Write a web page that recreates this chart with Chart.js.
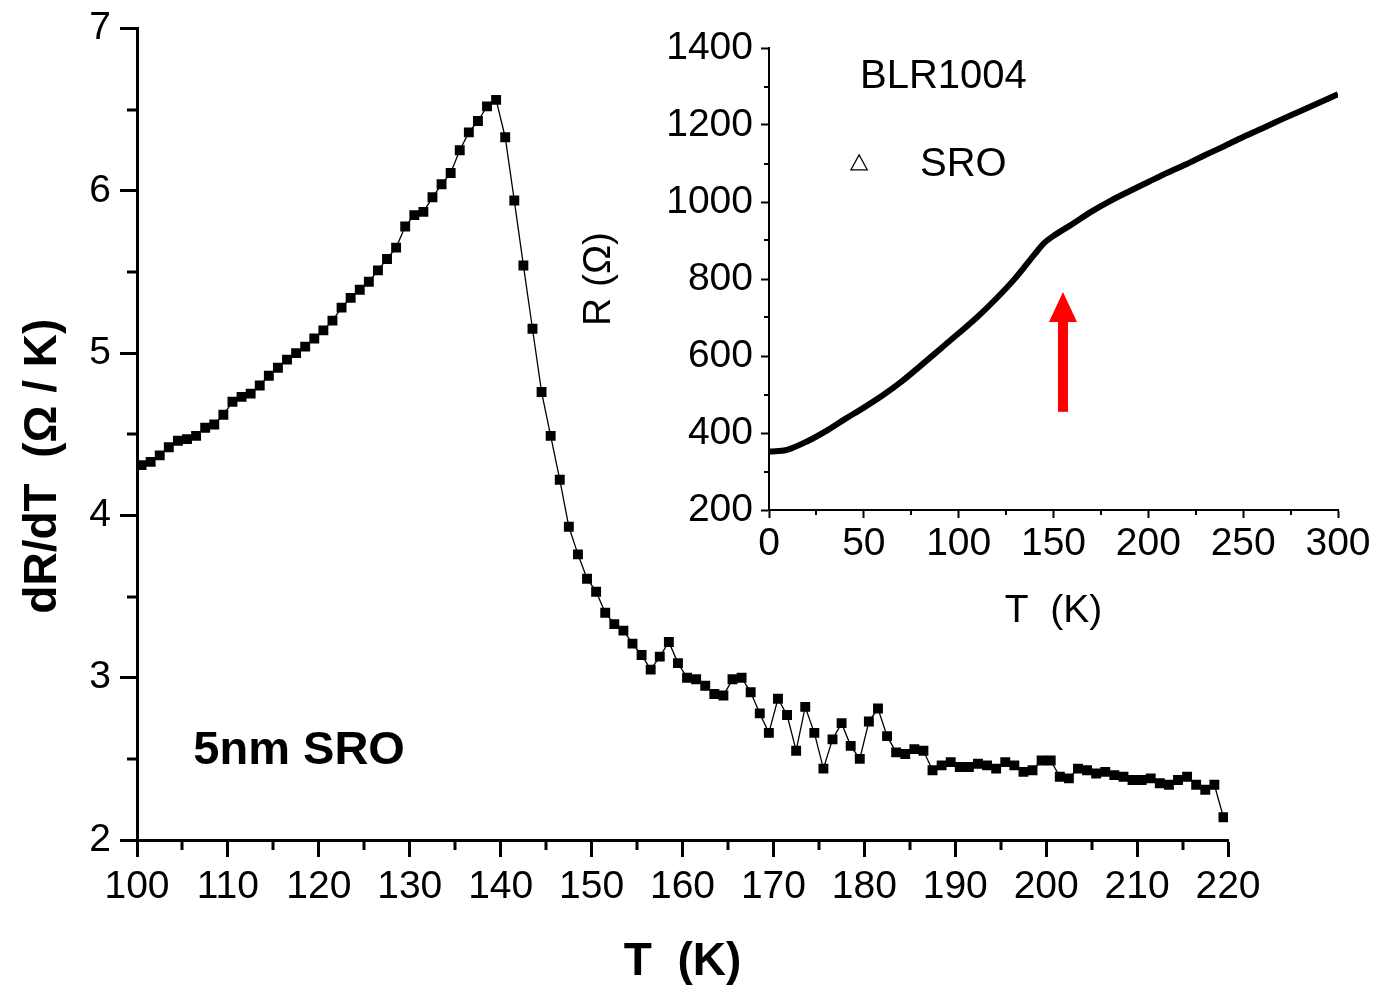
<!DOCTYPE html>
<html>
<head>
<meta charset="utf-8">
<script src="https://cdn.jsdelivr.net/npm/chart.js@4.4.1/dist/chart.umd.min.js"></script>
<style>
  body { margin: 0; background: #fff; }
  #wrap { position: relative; width: 1377px; height: 988px; }
  #mainChart { position: absolute; left: 0; top: 0; }
  #insetChart { position: absolute; left: 560px; top: 0; }
</style>
</head>
<body>
<div id="wrap">
  <canvas id="mainChart" width="1377" height="988"></canvas>
  <canvas id="insetChart" width="817" height="660"></canvas>
</div>
<script>
// main panel: dR/dT vs T, 5nm SRO
const temps = [
  100.5, 101.5, 102.5, 103.5, 104.5, 105.5, 106.5, 107.5, 108.5, 109.5,
  110.5, 111.5, 112.5, 113.5, 114.5, 115.5, 116.5, 117.5, 118.5, 119.5,
  120.5, 121.5, 122.5, 123.5, 124.5, 125.5, 126.5, 127.5, 128.5, 129.5,
  130.5, 131.5, 132.5, 133.5, 134.5, 135.5, 136.5, 137.5, 138.5, 139.5,
  140.5, 141.5, 142.5, 143.5, 144.5, 145.5, 146.5, 147.5, 148.5, 149.5,
  150.5, 151.5, 152.5, 153.5, 154.5, 155.5, 156.5, 157.5, 158.5, 159.5,
  160.5, 161.5, 162.5, 163.5, 164.5, 165.5, 166.5, 167.5, 168.5, 169.5,
  170.5, 171.5, 172.5, 173.5, 174.5, 175.5, 176.5, 177.5, 178.5, 179.5,
  180.5, 181.5, 182.5, 183.5, 184.5, 185.5, 186.5, 187.5, 188.5, 189.5,
  190.5, 191.5, 192.5, 193.5, 194.5, 195.5, 196.5, 197.5, 198.5, 199.5,
  200.5, 201.5, 202.5, 203.5, 204.5, 205.5, 206.5, 207.5, 208.5, 209.5,
  210.5, 211.5, 212.5, 213.5, 214.5, 215.5, 216.5, 217.5, 218.5, 219.5
];
const dRdT = [
  4.31, 4.33, 4.37, 4.42, 4.46, 4.47, 4.49, 4.54, 4.56, 4.62,
  4.70, 4.73, 4.75, 4.80, 4.86, 4.91, 4.96, 5.00, 5.04, 5.09,
  5.14, 5.20, 5.28, 5.34, 5.39, 5.44, 5.51, 5.58, 5.65, 5.78,
  5.85, 5.87, 5.96, 6.04, 6.11, 6.25, 6.36, 6.43, 6.52, 6.56,
  6.33, 5.94, 5.54, 5.15, 4.76, 4.49, 4.22, 3.93, 3.76, 3.61,
  3.53, 3.40, 3.33, 3.29, 3.21, 3.14, 3.05, 3.13, 3.22, 3.09,
  3.00, 2.99, 2.95, 2.90, 2.89, 2.99, 3.00, 2.91, 2.78, 2.66,
  2.87, 2.77, 2.55, 2.82, 2.66, 2.44, 2.62, 2.72, 2.58, 2.50,
  2.73, 2.81, 2.64, 2.54, 2.53, 2.56, 2.55, 2.43, 2.46, 2.48,
  2.45, 2.45, 2.47, 2.46, 2.44, 2.48, 2.46, 2.42, 2.43, 2.49,
  2.49, 2.39, 2.38, 2.44, 2.43, 2.41, 2.42, 2.40, 2.39, 2.37,
  2.37, 2.38, 2.35, 2.34, 2.37, 2.39, 2.34, 2.31, 2.34, 2.14
];
const mainXMinor = [105, 115, 125, 135, 145, 155, 165, 175, 185, 195, 205, 215];
const mainYMinor = [2.5, 3.5, 4.5, 5.5, 6.5];

// inset: R vs T, BLR1004
const insetT = [0, 5, 10, 20, 30, 40, 50, 60, 70, 80, 90, 100, 110, 120, 130, 140, 145,
  150, 160, 170, 180, 190, 200, 210, 220, 230, 240, 250, 260, 270, 280, 290, 300];
const insetR = [352, 353, 357, 378, 405, 436, 466, 498, 534, 575, 617, 659, 702, 750, 803, 864, 893,
  912, 943, 975, 1003, 1028, 1052, 1076, 1098, 1122, 1145, 1169, 1191, 1214, 1236, 1258, 1280];
const insetXMinor = [25, 75, 125, 175, 225, 275];
const insetYMinor = [300, 500, 700, 900, 1100, 1300];

const FONT = "'Liberation Sans', Arial, sans-serif";

// small ticks between the labelled ones
const minorTicks = {
  id: 'minorTicks',
  afterDraw(chart, args, opts) {
    const ctx = chart.ctx;
    const xs = chart.scales.x, ys = chart.scales.y;
    ctx.save();
    ctx.strokeStyle = '#000';
    ctx.lineWidth = opts.width;
    ctx.beginPath();
    opts.x.forEach(v => {
      const px = Math.round(xs.getPixelForValue(v));
      ctx.moveTo(px, xs.top);
      ctx.lineTo(px, xs.top + opts.len);
    });
    opts.y.forEach(v => {
      const py = Math.round(ys.getPixelForValue(v));
      ctx.moveTo(ys.right, py);
      ctx.lineTo(ys.right - opts.len, py);
    });
    ctx.stroke();
    ctx.restore();
  }
};

// free text / arrow, placed in data coordinates
const notes = {
  id: 'notes',
  afterDraw(chart, args, opts) {
    const ctx = chart.ctx;
    const xs = chart.scales.x, ys = chart.scales.y;
    ctx.save();
    (opts.texts || []).forEach(t => {
      ctx.font = t.font;
      ctx.fillStyle = '#000';
      ctx.textBaseline = 'middle';
      ctx.textAlign = 'left';
      ctx.fillText(t.text, xs.getPixelForValue(t.x), ys.getPixelForValue(t.y));
    });
    if (opts.triangle) {
      const tx = xs.getPixelForValue(opts.triangle.x), ty = ys.getPixelForValue(opts.triangle.y);
      const s = opts.triangle.size;
      ctx.beginPath();
      ctx.moveTo(tx, ty - s * 0.55);
      ctx.lineTo(tx + s * 0.55, ty + s * 0.45);
      ctx.lineTo(tx - s * 0.55, ty + s * 0.45);
      ctx.closePath();
      ctx.lineWidth = 1.2;
      ctx.strokeStyle = '#000';
      ctx.stroke();
    }
    if (opts.arrow) {
      const a = opts.arrow;
      const ax = xs.getPixelForValue(a.x);
      const yTip = ys.getPixelForValue(a.tip);
      const yBase = ys.getPixelForValue(a.base);
      const yHead = yTip + a.headLen;
      ctx.fillStyle = '#ff0000';
      ctx.fillRect(ax - a.shaft / 2, yHead - 1, a.shaft, yBase - yHead + 1);
      ctx.beginPath();
      ctx.moveTo(ax, yTip);
      ctx.lineTo(ax + a.headW / 2, yHead);
      ctx.lineTo(ax - a.headW / 2, yHead);
      ctx.closePath();
      ctx.fill();
    }
    ctx.restore();
  }
};

Chart.register(minorTicks, notes);

new Chart(document.getElementById('mainChart'), {
  type: 'line',
  data: {
    datasets: [{
      data: temps.map((t, i) => ({ x: t, y: dRdT[i] })),
      borderColor: '#000',
      borderWidth: 1.3,
      backgroundColor: '#000',
      pointStyle: 'rect',
      pointRadius: 7,
      pointBorderWidth: 0,
      tension: 0
    }]
  },
  options: {
    responsive: false,
    animation: false,
    devicePixelRatio: 1,
    layout: { padding: { left: 0, top: 27, right: 149, bottom: 0 } },
    plugins: {
      legend: { display: false },
      tooltip: { enabled: false },
      minorTicks: { x: mainXMinor, y: mainYMinor, len: 10, width: 3 },
      notes: {
        texts: [{ text: '5nm SRO', x: 106.2, y: 2.55, font: 'bold 47px ' + FONT }]
      }
    },
    scales: {
      x: {
        type: 'linear', min: 100, max: 220,
        afterFit: s => { s.height = 148; },
        border: { display: true, color: '#000', width: 3 },
        grid: { drawOnChartArea: false, drawTicks: true, tickLength: 17, tickWidth: 3, tickColor: '#000' },
        ticks: { stepSize: 10, color: '#000', padding: 7, font: { family: FONT, size: 39 } },
        title: {
          display: true, text: 'T  (K)', color: '#000',
          font: { family: FONT, size: 46, weight: 'bold', lineHeight: 1 },
          padding: { top: 0, bottom: 3 }
        }
      },
      y: {
        type: 'linear', min: 2, max: 7,
        afterFit: s => { s.width = 137; },
        border: { display: true, color: '#000', width: 3 },
        grid: { drawOnChartArea: false, drawTicks: true, tickLength: 17, tickWidth: 3, tickColor: '#000' },
        ticks: { stepSize: 1, color: '#000', padding: 9, font: { family: FONT, size: 39, lineHeight: 1 } },
        title: {
          display: true, text: 'dR/dT  (\u03A9 / K)     ', color: '#000',
          font: { family: FONT, size: 46, weight: 'bold', lineHeight: 1 },
          padding: { top: 20, bottom: 0 }
        }
      }
    }
  }
});

new Chart(document.getElementById('insetChart'), {
  type: 'line',
  data: {
    datasets: [{
      data: insetT.map((t, i) => ({ x: t, y: insetR[i] })),
      borderColor: '#000',
      borderWidth: 6,
      pointRadius: 0,
      cubicInterpolationMode: 'monotone',
      fill: false
    }]
  },
  options: {
    responsive: false,
    animation: false,
    devicePixelRatio: 1,
    layout: { padding: { left: 0, top: 48, right: 39, bottom: 0 } },
    plugins: {
      legend: { display: false },
      tooltip: { enabled: false },
      minorTicks: { x: insetXMinor, y: insetYMinor, len: 5, width: 2 },
      notes: {
        texts: [
          { text: 'BLR1004', x: 48, y: 1325, font: '40px ' + FONT },
          { text: 'SRO', x: 79.6, y: 1096, font: '40px ' + FONT }
        ],
        triangle: { x: 47.5, y: 1101, size: 15 },
        arrow: { x: 155, tip: 766, base: 455, shaft: 10, headW: 28, headLen: 30 }
      }
    },
    scales: {
      x: {
        type: 'linear', min: 0, max: 300,
        afterFit: s => { s.height = 150; },
        border: { display: true, color: '#000', width: 2 },
        grid: { drawOnChartArea: false, drawTicks: true, tickLength: 8, tickWidth: 2, tickColor: '#000' },
        ticks: { stepSize: 50, color: '#000', padding: 3, font: { family: FONT, size: 39 } },
        title: {
          display: true, text: 'T  (K)', color: '#000',
          font: { family: FONT, size: 39, lineHeight: 1 },
          padding: { top: 0, bottom: 29 }
        }
      },
      y: {
        type: 'linear', min: 200, max: 1400,
        afterFit: s => { s.width = 209; },
        border: { display: true, color: '#000', width: 2 },
        grid: { drawOnChartArea: false, drawTicks: true, tickLength: 8, tickWidth: 2, tickColor: '#000' },
        ticks: {
          stepSize: 200, color: '#000', padding: 8, font: { family: FONT, size: 39, lineHeight: 1 },
          callback: v => String(v)
        },
        title: {
          display: true, text: 'R (\u03A9)', color: '#000',
          font: { family: FONT, size: 39, lineHeight: 1 },
          padding: { top: 20, bottom: 0 }
        }
      }
    }
  }
});
</script>
</body>
</html>
